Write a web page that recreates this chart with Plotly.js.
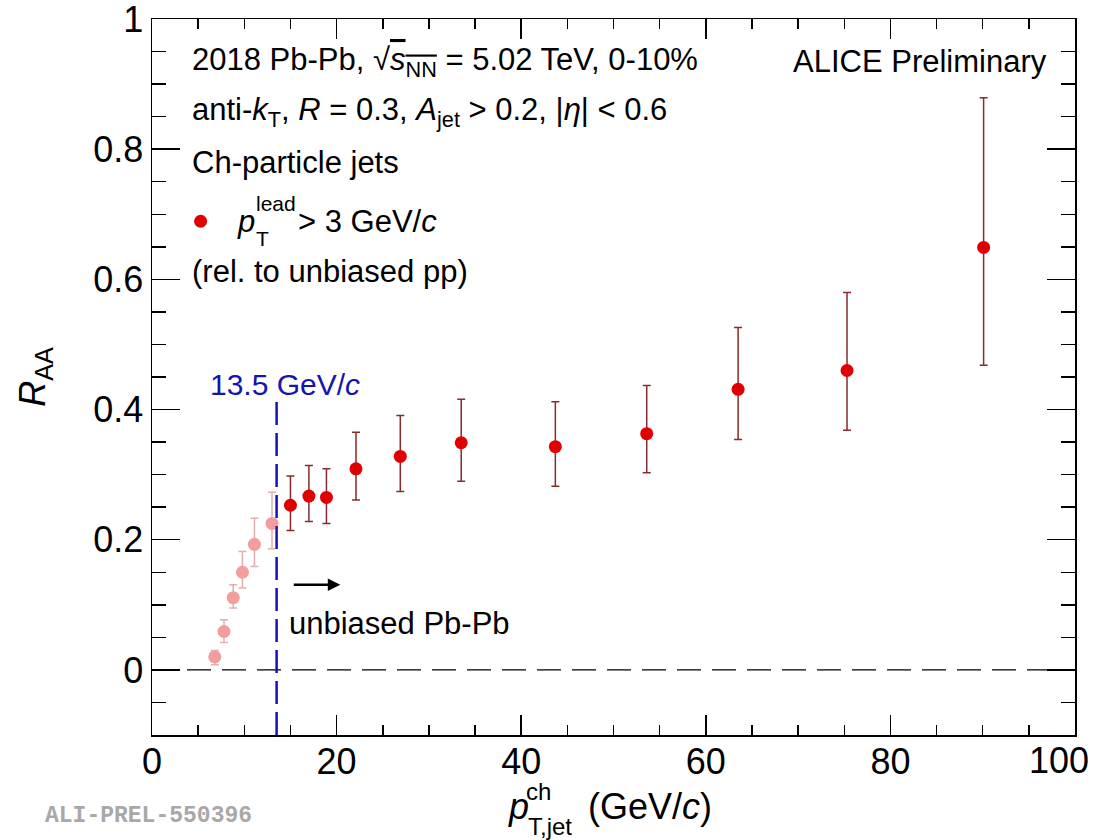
<!DOCTYPE html>
<html><head><meta charset="utf-8">
<script src="https://cdn.plot.ly/plotly-3.0.1.min.js"></script>
<style>body{margin:0;background:#fff}#plot{width:1094px;height:840px}</style>
</head><body><div id="plot"></div>
<script>
// Biased region (below 13.5 GeV/c), drawn faded
const ptLow = [6.8, 7.8, 8.8, 9.8, 11.1, 13.0];
const raaLow = [0.020, 0.059, 0.111, 0.150, 0.193, 0.225];
const errLowUp = [0.010, 0.018, 0.020, 0.032, 0.040, 0.048];
const errLowDown = [0.012, 0.017, 0.016, 0.024, 0.034, 0.039];
// Unbiased region
const ptHigh = [15.0, 17.0, 18.9, 22.1, 26.9, 33.5, 43.7, 53.6, 63.5, 75.3, 90.1];
const raaHigh = [0.253, 0.267, 0.265, 0.309, 0.328, 0.349, 0.343, 0.363, 0.431, 0.460, 0.649];
const errHighUp = [0.045, 0.047, 0.044, 0.056, 0.063, 0.067, 0.069, 0.074, 0.095, 0.120, 0.230];
const errHighDown = [0.039, 0.039, 0.040, 0.048, 0.054, 0.059, 0.061, 0.060, 0.077, 0.092, 0.181];
const thresholdPt = 13.5;
const thresholdLineTop = 0.418;
const xRange = [0, 100];
const yRange = [-0.1, 1.0];
const xTickVals = [0, 20, 40, 60, 80, 100];
const xTickText = ['0', '20', '40', '60', '80', ''];   // "100" is placed flush with the right frame edge below
const lastXTickLabel = '100';
const yTickVals = [0, 0.2, 0.4, 0.6, 0.8, 1];
const yTickText = ['0', '0.2', '0.4', '0.6', '0.8', '1'];

const FONT = 'Liberation Sans, Arial, sans-serif';
const traces = [
  {x: xRange, y: [0, 0], mode: 'lines', line: {color: 'black', width: 1.3, dash: '24px,11px'}, showlegend: false, hoverinfo: 'skip'},
  {x: [thresholdPt, thresholdPt], y: [yRange[0], thresholdLineTop], mode: 'lines', line: {color: '#1414b4', width: 2.5, dash: '23px,8px'}, showlegend: false, hoverinfo: 'skip'},
  {x: ptLow, y: raaLow, mode: 'markers', opacity: 0.38, showlegend: false,
   marker: {color: '#e00000', size: 13},
   error_y: {type: 'data', symmetric: false, array: errLowUp, arrayminus: errLowDown, color: '#b03030', thickness: 1.5, width: 4}},
  {x: ptHigh, y: raaHigh, mode: 'markers', name: '\u00a0', showlegend: true,
   marker: {color: '#e00000', size: 13},
   error_y: {type: 'data', symmetric: false, array: errHighUp, arrayminus: errHighDown, color: '#8a2a2a', thickness: 1.5, width: 4}}
];

const ax = {showgrid: false, zeroline: false, showline: true, mirror: 'ticks', linecolor: 'black', linewidth: 1.5,
  ticks: 'inside', tickcolor: 'black', tickwidth: 1.5, ticklabeloverflow: 'allow',
  tickfont: {family: FONT, size: 36, color: 'black'}};

const F = (size, color) => ({family: FONT, size: size, color: color || 'black'});
const txt = (x, y, text, opts) => Object.assign({xref: 'paper', yref: 'paper', x: x, y: y, text: text, showarrow: false,
  xanchor: 'left', yanchor: 'middle', font: F(31)}, opts || {});

const annotations = [
  txt(0.0412, 0.940, '2018 Pb-Pb, \u221A<span style="text-decoration:overline"><i>s</i><sub>NN</sub></span> = 5.02 TeV, 0-10%'),
  txt(0.972, 0.940, 'ALICE Preliminary', {xanchor: 'right'}),
  txt(0.0412, 0.870, 'anti-<i>k</i><sub>T</sub>, <i>R</i> = 0.3, <i>A</i><sub>jet</sub> &gt; 0.2, |<i>\u03B7</i>| &lt; 0.6'),
  txt(0.0412, 0.800, 'Ch-particle jets'),
  txt(0.0900, 0.717, '<i>p</i>'),
  txt(0.1100, 0.743, 'lead', {font: F(21)}),
  txt(0.1110, 0.694, 'T', {font: F(21)}),
  txt(0.1555, 0.717, '&gt; 3 GeV/<i>c</i>'),
  txt(0.0412, 0.647, '(rel. to unbiased pp)'),
  {xref: 'x', yref: 'y', x: 14.4, y: 0.438, text: '13.5 GeV/<i>c</i>', showarrow: false, font: F(30, '#1414b4')},
  {xref: 'x', yref: 'y', x: 14.6, y: 0.072, text: 'unbiased Pb-Pb', showarrow: false, xanchor: 'left', font: F(31)},
  {xref: 'x', yref: 'y', axref: 'x', ayref: 'y', x: 20.4, y: 0.131, ax: 15.2, ay: 0.131, text: '', showarrow: true,
   arrowhead: 2, arrowsize: 1, arrowwidth: 2.5, arrowcolor: 'black'},
  // last x tick label, right-aligned so it stays inside the picture
  txt(1.0175, -0.035, lastXTickLabel, {xanchor: 'right', font: F(36)}),
  // x axis title with stacked super/subscript
  txt(0.3835, -0.100, '<i>p</i>', {font: F(36)}),
  txt(0.4025, -0.079, 'ch', {font: F(24)}),
  txt(0.4050, -0.128, 'T,jet', {font: F(24)}),
  txt(0.4700, -0.100, '(GeV/<i>c</i>)', {font: F(36)}),
  {xref: 'paper', yref: 'paper', x: -0.118, y: -0.113, text: '<b>ALI-PREL-550396</b>', showarrow: false, xanchor: 'left', yanchor: 'middle',
   font: {family: 'Liberation Mono, DejaVu Sans Mono, monospace', size: 23, color: '#a8a8a8'}}
];

const layout = {
  width: 1094, height: 840,
  margin: {l: 152, r: 19, t: 19, b: 105},
  paper_bgcolor: 'white', plot_bgcolor: 'white',
  font: {family: FONT, color: 'black'},
  xaxis: Object.assign({}, ax, {range: xRange, tickmode: 'array', tickvals: xTickVals, ticktext: xTickText, ticklen: 20,
    ticklabelstandoff: -6,
    minor: {dtick: 5, tick0: 0, ticklen: 10, ticks: 'inside', tickcolor: 'black', tickwidth: 1.5}}),
  yaxis: Object.assign({}, ax, {range: yRange, tickmode: 'array', tickvals: yTickVals, ticktext: yTickText, ticklen: 28,
    minor: {dtick: 0.05, tick0: 0, ticklen: 14, ticks: 'inside', tickcolor: 'black', tickwidth: 1.5},
    title: {text: '<i>R</i><sub>AA</sub>', font: F(36), standoff: 36}}),
  showlegend: true,
  legend: {x: 0.031, y: 0.717, xanchor: 'left', yanchor: 'middle', bgcolor: 'rgba(0,0,0,0)', font: F(31), itemwidth: 30},
  annotations: annotations
};
Plotly.newPlot('plot', traces, layout, {displayModeBar: false, staticPlot: true});
</script></body></html>
